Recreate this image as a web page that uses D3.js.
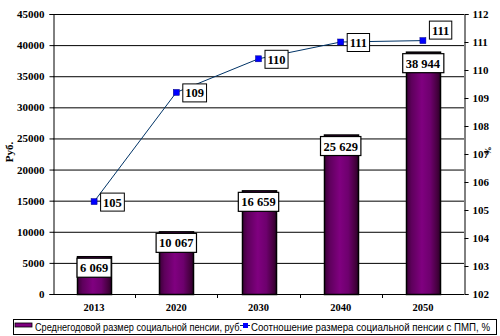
<!DOCTYPE html>
<html><head><meta charset="utf-8">
<script src="https://cdn.jsdelivr.net/npm/d3@7"></script>
<style>body{margin:0;background:#fff}svg{display:block}</style>
</head><body>
<script>
const categories = ["2013","2020","2030","2040","2050"];
const pensionValues = [6069, 10067, 16659, 25629, 38944];
const pensionLabels = ["6 069","10 067","16 659","25 629","38 944"];
const ratioValues = [105.3, 109.2, 110.4, 111.0, 111.05];
const ratioLabels = ["105","109","110","111","111"];
const leftTicks = [0,5000,10000,15000,20000,25000,30000,35000,40000,45000];
const rightTicks = [102,103,104,105,106,107,108,109,110,111,112];
const legendLabels = ["Среднегодовой размер социальной пенсии, руб.","Соотношение размера социальной  пенсии с ПМП, %"];

const W=500,H=336;
const svg=d3.select("body").append("svg").attr("width",W).attr("height",H);
const defs=svg.append("defs");
const g=defs.append("linearGradient").attr("id","bg").attr("x1","0").attr("x2","1").attr("y1","0").attr("y2","0");
[[0,"#3c0038"],[0.15,"#5e005c"],[0.45,"#800080"],[0.7,"#6e006e"],[0.9,"#46003f"],[1,"#2a0028"]].forEach(([o,c])=>g.append("stop").attr("offset",o).attr("stop-color",c));

const L=53,R=464,T=14,B=294;
const x=d3.scaleBand().domain(categories).range([L,R]);
const yL=d3.scaleLinear().domain([0,45000]).range([B,T]);
const yR=d3.scaleLinear().domain([102,112]).range([B,T]);
const tickFont="'Liberation Serif','Times New Roman',serif";

// gridlines
svg.append("g").selectAll("line").data(leftTicks.slice(1)).join("line")
  .attr("x1",L).attr("x2",R).attr("y1",d=>yL(d)+0.5).attr("y2",d=>yL(d)+0.5)
  .attr("stroke","#000").attr("stroke-width",1);

// left axis
const ax=svg.append("g").attr("transform",`translate(${L+0.5},0)`)
  .call(d3.axisLeft(yL).tickValues(leftTicks).tickSize(4).tickPadding(5).tickFormat(d3.format("d")));
ax.selectAll("text").attr("font-family",tickFont).attr("font-weight","bold").attr("font-size","11px").attr("fill","#000");
ax.select(".domain").attr("stroke","#000");
ax.selectAll(".tick line").attr("stroke","#000");
ax.selectAll(".tick").attr("transform",d=>`translate(0,${yL(d)+0.5})`);

// right axis
const ar=svg.append("g").attr("transform",`translate(${R+0.5},0)`)
  .call(d3.axisRight(yR).tickValues(rightTicks).tickSize(4).tickPadding(4).tickFormat(d3.format("d")));
ar.selectAll("text").attr("font-family",tickFont).attr("font-weight","bold").attr("font-size","11px").attr("fill","#000");
ar.select(".domain").attr("stroke","#000");
ar.selectAll(".tick line").attr("stroke","#000");

// bottom axis
const ab=svg.append("g").attr("transform",`translate(0,${B+0.5})`)
  .call(d3.axisBottom(x).tickSize(0).tickPadding(9));
ab.selectAll("text").attr("font-family",tickFont).attr("font-weight","bold").attr("font-size","10.5px").attr("fill","#000");
ab.select(".domain").attr("stroke","#000").attr("d",`M${L},0H${R}`);
svg.append("g").selectAll("line").data(categories.slice(1)).join("line")
  .attr("x1",d=>Math.round(x(d))+0.5).attr("x2",d=>Math.round(x(d))+0.5)
  .attr("y1",B).attr("y2",B+4).attr("stroke","#000");

// bars
const bw=34;
svg.append("g").selectAll("rect").data(pensionValues).join("rect")
  .attr("x",(d,i)=>Math.round(x(categories[i])+x.bandwidth()/2-bw/2)+0.5)
  .attr("y",d=>yL(d)+0.5).attr("width",bw).attr("height",d=>B-yL(d))
  .attr("fill","url(#bg)").attr("stroke","#000").attr("stroke-width",1.5);

// bar labels
const bl=svg.append("g").selectAll("g").data(pensionValues).join("g")
  .attr("transform",(d,i)=>`translate(${x(categories[i])+x.bandwidth()/2},${yL(d)+2})`);
bl.append("text").text((d,i)=>pensionLabels[i]).attr("text-anchor","middle").attr("y",14)
  .attr("font-family",tickFont).attr("font-weight","bold").attr("font-size","12.5px").attr("fill","#000")
  .each(function(){const b=this.getBBox();d3.select(this.parentNode).insert("rect","text")
    .attr("x",b.x-3).attr("y",0).attr("width",b.width+6).attr("height",19)
    .attr("fill","#fff").attr("stroke","#000").attr("stroke-width",1.2);});

// line
const cx=(i)=>x(categories[i])+x.bandwidth()/2;
svg.append("path").datum(ratioValues)
  .attr("d",d3.line().x((d,i)=>cx(i)).y(d=>yR(d)))
  .attr("fill","none").attr("stroke","#003366").attr("stroke-width",1);
svg.append("g").selectAll("rect").data(ratioValues).join("rect")
  .attr("x",(d,i)=>cx(i)-3).attr("y",d=>yR(d)-3).attr("width",6).attr("height",6)
  .attr("fill","#0000ff").attr("stroke","#000080").attr("stroke-width",0.5);

// line labels
const ll=svg.append("g").selectAll("g").data(ratioValues).join("g")
  .attr("transform",(d,i)=>{
    const last=i===ratioValues.length-1;
    return `translate(${cx(i)+(last?6:6)},${yR(d)-(last?20:9)})`;});
ll.append("text").text((d,i)=>ratioLabels[i]).attr("x",3).attr("y",14)
  .attr("font-family",tickFont).attr("font-weight","bold").attr("font-size","12.5px").attr("fill","#000")
  .each(function(){const b=this.getBBox();d3.select(this.parentNode).insert("rect","text")
    .attr("x",0.5).attr("y",0.5).attr("width",b.width+5).attr("height",18)
    .attr("fill","#fff").attr("stroke","#000").attr("stroke-width",1);});

// axis titles
svg.append("text").text("Руб.").attr("transform","translate(13,152) rotate(-90)")
  .attr("text-anchor","middle").attr("font-family",tickFont).attr("font-weight","bold").attr("font-size","11px");
svg.append("text").text("%").attr("transform","translate(491,151) rotate(-90)")
  .attr("text-anchor","middle").attr("font-family",tickFont).attr("font-weight","bold").attr("font-size","9px");

// legend
const lg=svg.append("g");
lg.append("rect").attr("x",13.5).attr("y",319.5).attr("width",483).attr("height",15).attr("fill","#fff").attr("stroke","#000");
lg.append("rect").attr("x",15).attr("y",323).attr("width",17).attr("height",4).attr("fill","#800080").attr("stroke","#000").attr("stroke-width",0.8);
lg.append("text").text(legendLabels[0]).attr("x",35).attr("y",331).attr("font-family","'Liberation Sans',Arial,sans-serif").attr("font-size","10px").attr("textLength",207).attr("lengthAdjust","spacingAndGlyphs");
lg.append("line").attr("x1",240).attr("x2",250).attr("y1",325.5).attr("y2",325.5).attr("stroke","#003366");
lg.append("rect").attr("x",243).attr("y",323).attr("width",5).attr("height",5).attr("fill","#0000ff");
lg.append("text").text(legendLabels[1]).attr("x",251).attr("y",331).attr("font-family","'Liberation Sans',Arial,sans-serif").attr("font-size","10px").attr("textLength",239).attr("lengthAdjust","spacingAndGlyphs");
</script>
</body></html>
